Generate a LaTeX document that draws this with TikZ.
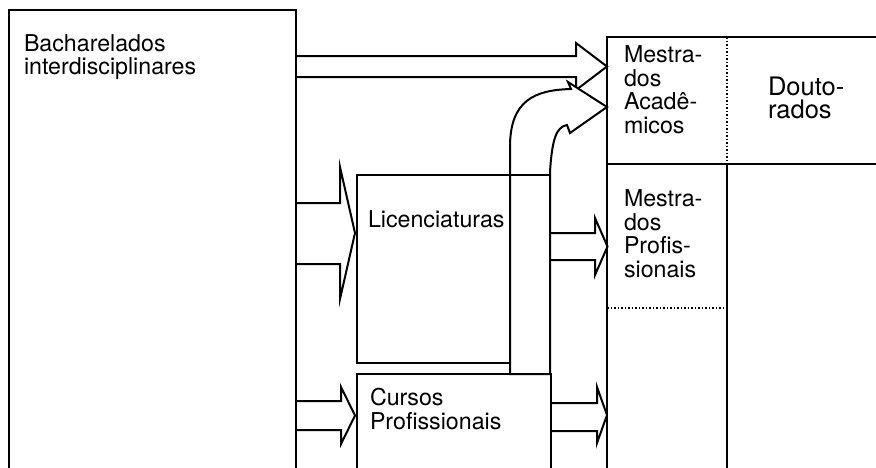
\documentclass[tikz,border=0pt]{standalone}
\usepackage{fontspec}
\setmainfont{TeX Gyre Heros}
\begin{document}
\begin{tikzpicture}[x=1pt,y=-1pt, line width=2pt, line join=miter,
  lbl/.style={anchor=base west, inner sep=0pt, align=left, font=\fontsize{23.2}{23.5}\selectfont},
  fat/.style={draw=black, line join=miter},
  dotline/.style={line width=1.6pt, dash pattern=on 1.5pt off 2pt}]
\useasboundingbox (0,0) rectangle (876,467);
\clip (0,0) rectangle (876,467);
% straight fat arrows
\draw[fat] (295.5,56) -- (576,56) -- (576,43) -- (607,66.5) -- (576,90) -- (576,77) -- (295.5,77);
\draw[fat] (295.5,203) -- (340,203) -- (340,167) -- (355,233) -- (340,299) -- (340,264) -- (295.5,264);
\draw[fat] (550,233) -- (595,233) -- (595,218) -- (607.5,246.5) -- (595,275) -- (595,260) -- (550,260);
\draw[fat] (295.5,401) -- (341,401) -- (341,387) -- (355,415.5) -- (341,444) -- (341,430) -- (295.5,430);
\draw[fat] (551,403) -- (597,403) -- (597,387) -- (607,415) -- (597,443) -- (597,431) -- (551,431);
% curved fat arrow
\draw[fat, fill=white] (510,374) -- (510,147) .. controls (510,100) and (535,90) .. (571,89) -- (568,82) -- (607,107) -- (570,133) -- (567,125) .. controls (556,127) and (552,140) .. (550,172) -- (550,374) -- cycle;
% boxes
\draw (9,480) -- (9,9.5) -- (295.5,9.5) -- (295.5,480);
\draw (357,175) rectangle (510,363);
\draw (510,175) -- (550,175);
\draw (357,480) -- (357,374) -- (551,374) -- (551,480);
\draw (607,480) -- (607,37) -- (880,37);
\draw (607,164) -- (880,164);
\draw (727,164) -- (727,480);
\draw[dotline] (727,37) -- (727,164);
\draw[dotline] (607,308) -- (727,308);
% labels (anchor = baseline of the last line)
\node[lbl] (bach) at (23,74.5) {Bacharelados\\interdisciplinares};
\node[lbl] (lic) at (367,227) {Licenciaturas};
\node[lbl] (cur) at (369,429) {Cursos\\Profissionais};
\node[lbl] (ma) at (623,133) {Mestra-\\dos\\Acadê-\\micos};
\node[lbl, font=\fontsize{25.5}{23}\selectfont] (dout) at (767,118) {Douto-\\rados};
\node[lbl] (mp) at (623,277) {Mestra-\\dos\\Profis-\\sionais};
\end{tikzpicture}
\end{document}
